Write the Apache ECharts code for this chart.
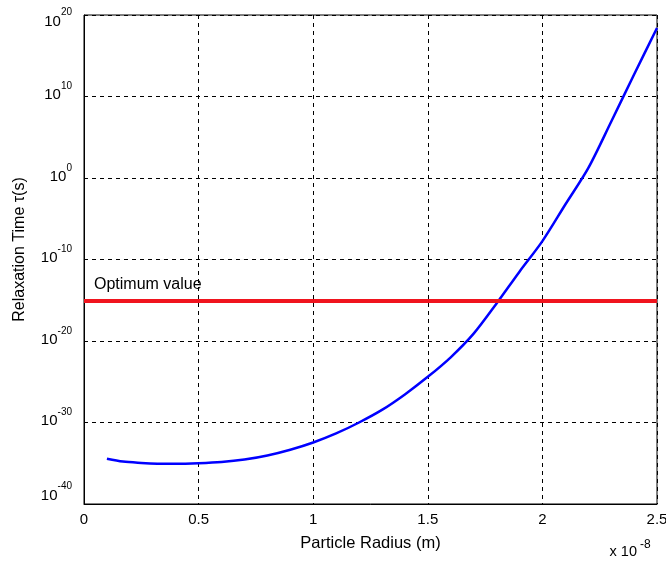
<!DOCTYPE html>
<html>
<head>
<meta charset="utf-8">
<title>Relaxation Time vs Particle Radius</title>
<script src="https://cdn.jsdelivr.net/npm/echarts@6/dist/echarts.min.js"></script>
<style>
  html, body { margin: 0; padding: 0; background: #fff; }
  #chart { width: 666px; height: 561px; }
</style>
</head>
<body>
<div id="chart"></div>
<script>
// Particle radius, in units of 1e-8 m
const radiusE8 = [0.1, 0.17, 0.25, 0.32, 0.4, 0.5, 0.6, 0.7, 0.8, 0.9, 1.0, 1.1, 1.2,
                  1.3, 1.4, 1.5, 1.6, 1.7, 1.8, 1.9, 2.0, 2.1, 2.2, 2.3, 2.4, 2.5];
// Relaxation time tau (s)
const relaxationTime = [3.6e-35, 1.6e-35, 1.1e-35, 8.9e-36, 8.5e-36, 1.0e-35, 1.4e-35, 2.8e-35,
                        8.9e-35, 4.5e-34, 3.5e-33, 4.5e-32, 1.0e-30, 3.5e-29, 2.8e-27, 4.0e-25,
                        1.0e-22, 7.9e-20, 4.0e-16, 3.2e-12, 1.8e-8, 5.6e-4, 16, 7.9e6, 5.0e12, 2.5e18];
// Optimum relaxation time (s)
const optimumTau = 1e-15;
// Axis ticks (x in 1e-8 m, y as powers of ten)
const xTicks = [0, 0.5, 1, 1.5, 2, 2.5];
const yExponents = [-40, -30, -20, -10, 0, 10, 20];

const chart = echarts.init(document.getElementById('chart'), null, { renderer: 'canvas' });
const FONT = '"Liberation Sans", Arial, sans-serif';

// The y axis is logarithmic: values are placed by their base-10 exponent
const curve = radiusE8.map((r, i) => [r, Math.log10(relaxationTime[i])]);

const yMin = yExponents[0];
const yMax = yExponents[yExponents.length - 1];

// "10" with a raised exponent. Token box heights set where each part sits
// relative to the tick; the two end labels are nudged inward.
function powerLabel(v) {
  const e = Math.round(v);
  const k = e === yMax ? 't' : e === yMin ? 'm' : 'c';
  return '{b' + k + '|10}{s' + k + '|' + e + '}';
}
const base = { fontSize: 15, fontFamily: FONT, color: '#000' };
const sup = { fontSize: 10, fontFamily: FONT, color: '#000' };
const labelRich = {
  bc: Object.assign({ height: 27.4, verticalAlign: 'top' }, base),
  sc: Object.assign({ height: 10.4, lineHeight: 30, verticalAlign: 'top' }, sup),
  bt: Object.assign({ height: 15.6, verticalAlign: 'bottom' }, base),
  st: Object.assign({ height: 24.4, lineHeight: 30, verticalAlign: 'top' }, sup),
  bm: Object.assign({ height: 23.4, verticalAlign: 'top' }, base),
  sm: Object.assign({ height: 4.4, lineHeight: 40, verticalAlign: 'top' }, sup)
};

chart.setOption({
  backgroundColor: '#fff',
  animation: false,
  textStyle: { fontFamily: FONT },
  grid: {
    left: 84, right: 9, top: 15, bottom: 57,
    outerBoundsMode: 'none',
    show: true, borderColor: '#000', borderWidth: 1, backgroundColor: 'transparent'
  },
  xAxis: {
    type: 'value',
    min: xTicks[0], max: xTicks[xTicks.length - 1], interval: 0.5,
    axisLine: { show: true, onZero: false, lineStyle: { color: '#000', width: 1 } },
    axisTick: { show: false },
    axisLabel: {
      color: '#000', fontSize: 15, fontFamily: FONT, margin: 8,
      formatter: v => String(+v.toFixed(2))
    },
    splitLine: { show: true, lineStyle: { color: '#000', type: [4, 4], width: 1 } },
    name: 'Particle Radius (m)',
    nameLocation: 'middle', nameGap: 31,
    nameTextStyle: { color: '#000', fontSize: 16.5, fontFamily: FONT }
  },
  yAxis: {
    type: 'value',
    min: yMin, max: yMax, interval: 10,
    axisLine: { show: true, onZero: false, lineStyle: { color: '#000', width: 1 } },
    axisTick: { show: false },
    axisLabel: {
      margin: 12,
      formatter: powerLabel,
      rich: labelRich
    },
    splitLine: { show: true, lineStyle: { color: '#000', type: [4, 4], width: 1 } },
    name: 'Relaxation Time τ(s)',
    nameLocation: 'middle', nameGap: 56,
    nameTextStyle: { color: '#000', fontSize: 16, fontFamily: FONT, padding: [0, 0, 0, 20] }
  },
  series: [
    {
      type: 'line',
      data: curve,
      showSymbol: false,
      smooth: 0.3,
      lineStyle: { color: '#0000ff', width: 2.5 },
      z: 3,
      markLine: {
        silent: true,
        symbol: ['none', 'none'],
        lineStyle: { color: '#f0141e', width: 4, type: 'solid' },
        label: {
          show: true, position: 'insideStartTop', distance: [10, 8],
          formatter: 'Optimum value', color: '#000', fontSize: 16, fontFamily: FONT
        },
        emphasis: { disabled: true },
        data: [{ yAxis: Math.log10(optimumTau) }]
      }
    }
  ],
  graphic: [
    {
      type: 'text', x: 637, y: 552,
      style: { text: 'x 10', align: 'right', verticalAlign: 'middle', fontSize: 14.5, fontFamily: FONT, fill: '#000' }
    },
    {
      type: 'text', x: 640, y: 545,
      style: { text: '-8', align: 'left', verticalAlign: 'middle', fontSize: 12, fontFamily: FONT, fill: '#000' }
    }
  ]
});
</script>
</body>
</html>
